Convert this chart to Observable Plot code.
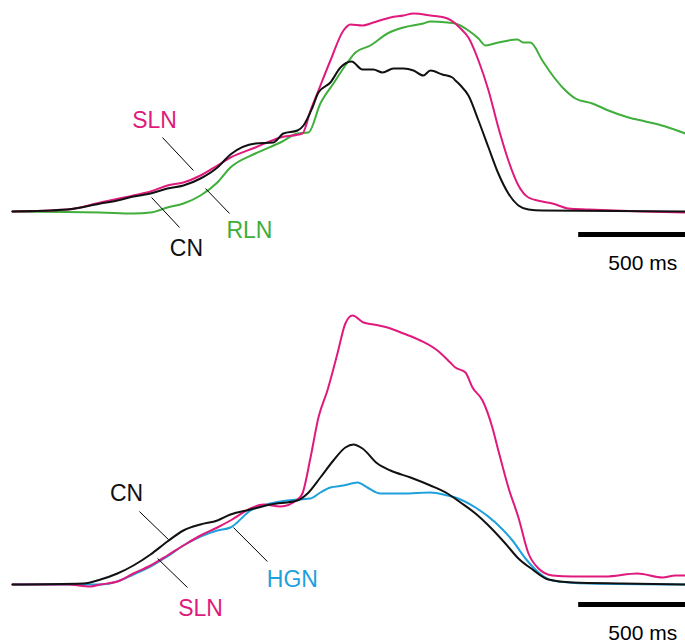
<!DOCTYPE html>
<html><head><meta charset="utf-8">
<script src="https://cdn.jsdelivr.net/npm/d3@7"></script>
<script src="https://cdn.jsdelivr.net/npm/@observablehq/plot@0.6"></script>
<style>body{margin:0;background:#fff}svg{display:block}</style>
</head><body><div id="chart"></div>
<script>
// Time in ms, amplitude in arbitrary units (integrated EMG)
// ---- Top panel ----
const topCN_t = [0,257,412,491,566,646,725,800,880,959,1020,1137,1221,1268,1334,1362,1404,1432,1488,1535,1587,1638,1689,1732,1783,1830,1877,1923,1956,2012,2059,2073,2097,2134,2181,2228,2274,2321,2368,2415,2480,3150];
const topCN_v = [0,2,8,11,15,18,23,26,33,44,57,68,69,78,81,86,104,119,129,144,150,142,142,139,143,143,141,136,141,137,134,131,126,116,91,64,38,18,6,2,1,0];
const topSLN_t = [0,257,412,566,646,725,800,880,959,1020,1137,1254,1357,1395,1432,1488,1549,1582,1638,1689,1769,1830,1877,1956,2036,2073,2097,2134,2181,2228,2274,2321,2368,2415,2480,2527,2602,2696,2948,3150];
const topSLN_v = [0,2,9,16,20,26,29,36,46,54,64,74,78,101,121,151,181,187,186,189,194,196,198,196,193,188,183,174,151,121,84,51,26,14,10,8,3,2,0,-1];
const topRLN_t = [0,412,566,646,725,800,880,959,1020,1137,1254,1334,1385,1441,1502,1568,1605,1675,1755,1830,1923,1956,2036,2073,2134,2181,2214,2274,2363,2391,2424,2480,2518,2579,2635,2714,2789,2883,2962,3056,3150];
const topRLN_v = [0,-1,-2,-1,4,8,16,29,44,58,69,78,79,108,128,149,159,166,178,184,188,190,189,188,181,173,166,169,172,169,169,151,139,123,113,108,101,94,90,85,78];

// ---- Bottom panel ----
const botCN_t = [0,332,412,491,566,646,725,800,880,959,1020,1114,1207,1334,1381,1441,1502,1558,1596,1638,1708,1769,1863,1956,2036,2097,2167,2228,2307,2368,2434,2508,2621,2855,3150];
const botCN_v = [0,1,5,11,19,30,43,54,60,64,70,75,80,84,91,107,124,137,140,136,121,114,107,99,91,82,71,59,41,26,15,5,2,1,0];
const botSLN_t = [0,257,365,412,491,566,646,725,800,880,959,1020,1114,1175,1254,1334,1357,1395,1432,1474,1521,1558,1591,1643,1689,1755,1830,1909,1989,2049,2073,2120,2153,2200,2246,2274,2321,2368,2415,2462,2527,2621,2775,2925,3042,3103,3150];
const botSLN_v = [0,0,-2,0,3,11,19,29,39,49,57,64,76,80,78,85,91,127,167,194,231,261,269,262,260,257,251,244,234,222,217,212,197,184,157,134,97,67,31,16,9,8,8,11,7,9,9];
const botHGN_t = [0,412,491,566,646,725,800,880,959,1020,1114,1207,1334,1395,1441,1488,1549,1615,1661,1722,1830,1956,2036,2073,2167,2260,2340,2401,2462,2527,2696,3150];
const botHGN_v = [0,0,3,10,18,28,39,48,54,57,74,81,85,86,92,97,99,102,97,91,91,92,89,87,77,62,44,26,12,4,1,0];

// Labels and leader lines (time ms, amplitude)
const topLabelText = ["SLN","RLN","CN"];
const topLabelT = [665,1109,814];
const topLabelV = [91,-19,-37];
const topLeaderT1 = [702,903,651], topLeaderV1 = [74,23,14];
const topLeaderT2 = [847,1016,782], topLeaderV2 = [41,-2,-16];

const botLabelText = ["CN","SLN","HGN"];
const botLabelT = [534,880,1310];
const botLabelV = [91,-24,5];
const botLeaderT1 = [594,679,1034], botLeaderV1 = [73,26,57];
const botLeaderT2 = [730,819,1193], botLeaderV2 = [45,-3,23];

const scaleBarMs = 500;
const scaleBarEnd = 3150;
const scaleLabel = "500 ms";
const scaleLabelT = 2950;

const colors = {CN:"#111111", SLN:"#e0197d", RLN:"#3fae3a", HGN:"#1ea0dc"};
const FONT = "'Liberation Sans', Arial, Helvetica, sans-serif";

const pts = (ts, vs) => ts.map((t, i) => ({t, v: vs[i]}));

function panel({height, yDomain, traces, labText, labT, labV, l1t, l1v, l2t, l2v, barV, barTextV}) {
  const labels = labText.map((s, i) => ({s, t: labT[i], v: labV[i]}));
  const leaders = l1t.map((t, i) => ({t1: t, v1: l1v[i], t2: l2t[i], v2: l2v[i]}));
  return Plot.plot({
    width: 685, height,
    marginLeft: 12, marginRight: 0, marginTop: 0, marginBottom: 0,
    x: {domain: [0, 3150], axis: null},
    y: {domain: yDomain, axis: null},
    style: {fontFamily: FONT, background: "#fff"},
    marks: [
      ...traces.map(([name, ts, vs]) => Plot.line(pts(ts, vs), {x: "t", y: "v", stroke: colors[name], strokeWidth: 2, curve: "monotone-x"})),
      Plot.link(leaders, {x1: "t1", y1: "v1", x2: "t2", y2: "v2", stroke: "#000", strokeWidth: 1}),
      Plot.text(labels, {x: "t", y: "v", text: "s", fill: d => colors[d.s], fontSize: 23, textAnchor: "middle"}),
      Plot.ruleY([barV], {x1: scaleBarEnd - scaleBarMs, x2: scaleBarEnd, stroke: "#000", strokeWidth: 5, strokeLinecap: "butt"}),
      Plot.text([scaleLabel], {x: scaleLabelT, y: barTextV, text: d => d, fontSize: 21, fill: "#000", textAnchor: "middle"})
    ]
  });
}

const topPanel = panel({
  height: 300, yDomain: [-89, 211],
  traces: [["RLN", topRLN_t, topRLN_v], ["SLN", topSLN_t, topSLN_v], ["CN", topCN_t, topCN_v]],
  labText: topLabelText, labT: topLabelT, labV: topLabelV,
  l1t: topLeaderT1, l1v: topLeaderV1, l2t: topLeaderT2, l2v: topLeaderV2,
  barV: -23, barTextV: -52
});
const bottomPanel = panel({
  height: 344, yDomain: [-60, 284],
  traces: [["HGN", botHGN_t, botHGN_v], ["SLN", botSLN_t, botSLN_v], ["CN", botCN_t, botCN_v]],
  labText: botLabelText, labT: botLabelT, labV: botLabelV,
  l1t: botLeaderT1, l1v: botLeaderV1, l2t: botLeaderT2, l2v: botLeaderV2,
  barV: -20, barTextV: -49
});
const root = document.getElementById("chart");
root.appendChild(topPanel);
root.appendChild(bottomPanel);
</script>
</body></html>
